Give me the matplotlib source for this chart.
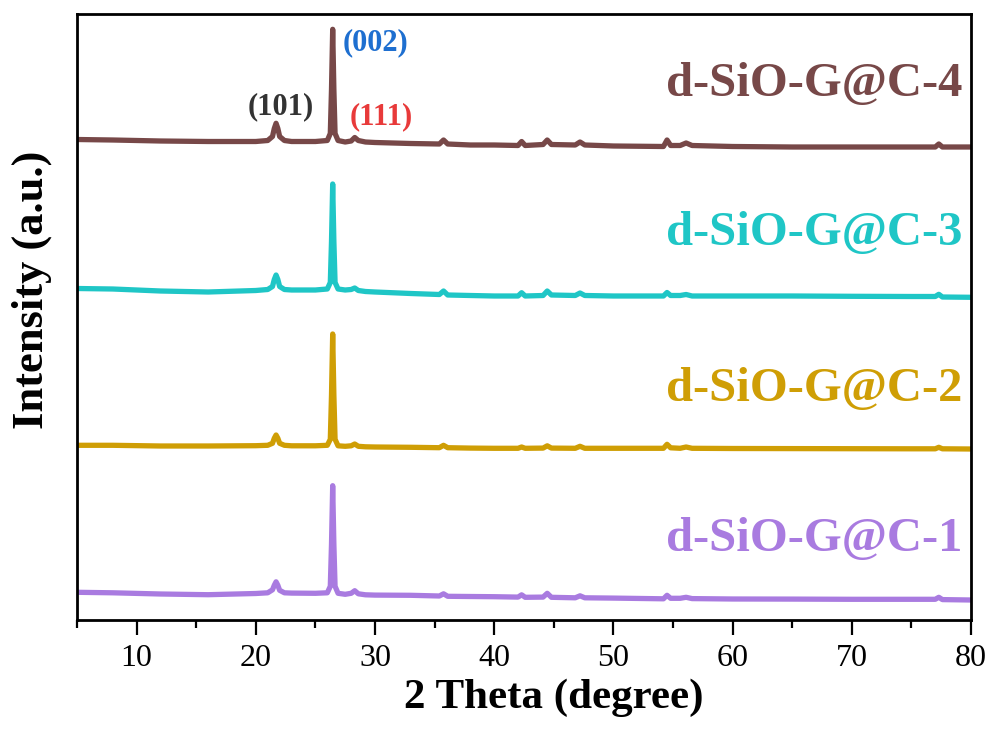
import matplotlib
matplotlib.use("Agg")
import matplotlib.pyplot as plt
from matplotlib.ticker import MultipleLocator

plt.rcParams['font.family'] = 'serif'
plt.rcParams['font.serif'] = ['Liberation Serif', 'DejaVu Serif']

# 2 theta sample points (degree)
two_theta = [5, 8, 12, 16, 20, 21.0, 21.4, 21.55, 21.7, 21.85,
             22.0, 22.4, 23, 25, 26.0, 26.25, 26.35, 26.45, 26.55, 26.65,
             26.9, 27.5, 28.0, 28.3, 28.6, 29.2, 30, 33, 35.4, 35.75,
             36.1, 38, 40, 42.0, 42.3, 42.6, 44.1, 44.45, 44.8, 46.8,
             47.2, 47.6, 50, 54.2, 54.5, 54.8, 55.6, 56.1, 56.6, 60,
             65, 70, 75, 77.0, 77.3, 77.6, 80]

# intensities (a.u.)
c1 = [0, -0.5, -1.7, -2.4, -1.2, -0.5, 2.5, 7, 10.5, 7,
      2, -0.5, -0.8, -1, -0.5, 6, 48, 106.6, 48, 6,
      -1, -2, -1, 1.6, -1.5, -2.5, -2.8, -3, -3.7, -1.5,
      -4, -4.2, -4.4, -4.8, -2.5, -5, -4.8, -1, -5, -5.5,
      -3.5, -5.5, -5.8, -6.5, -3, -6, -6, -5, -6.3, -6.7,
      -6.8, -7, -7, -7, -5, -7.3, -7.7]
c2 = [0, 0, -0.7, -0.7, -0.4, 0, 2, 7, 10.3, 7,
      2, 0, -0.5, -0.5, 0, 6, 50, 111.3, 50, 6,
      -0.5, -1, -0.5, 1.3, -1, -1.5, -1.7, -2, -2.4, 0,
      -2.4, -2.8, -3, -3, -1.7, -3, -2.8, -0.5, -2.8, -3,
      -1, -3, -3, -3, 1, -2.5, -3, -1.7, -3, -3.2,
      -3.3, -3.4, -3.5, -3.5, -2, -3.5, -3.7]
c3 = [0, -0.5, -2.5, -3.5, -2, -1, 2, 9, 13.5, 9,
      2, -1, -1.5, -1.5, -0.5, 6, 47, 104.5, 47, 6,
      -0.5, -1.5, -1, 0.5, -2, -3, -3.5, -5, -6, -2.5,
      -6.5, -7, -7.5, -7.5, -4.2, -7.5, -7, -2.5, -6.5, -7,
      -4.5, -7, -7.5, -7.5, -4, -7, -7, -6, -7.5, -7.5,
      -7.5, -7.8, -8, -8, -5.8, -8.5, -8.8]
c4 = [0, -0.5, -1.5, -2, -2, -1, 3, 11, 16.2, 11,
      3, -1, -2, -2, -1, 6, 50, 110.2, 50, 6,
      -1, -2.5, -1.5, 2, -1, -2.5, -3, -4, -4.5, -0.5,
      -4.5, -5.5, -5.5, -6, -2, -6, -5, -0.5, -5, -5.5,
      -2.5, -5.5, -6.5, -7, -0.5, -6, -6, -3.5, -6, -7,
      -7.5, -7.5, -7.5, -7.5, -4.5, -7.5, -7.5]

names = ['d-SiO-G@C-1', 'd-SiO-G@C-2', 'd-SiO-G@C-3', 'd-SiO-G@C-4']
offsets = [27.7, 174.7, 331.5, 480.5]
colors = ['#A97BE0', '#CF9E05', '#1FC6C6', '#774848']
label_y = [81, 231, 387, 536]

fig = plt.figure(figsize=(9.92, 7.31), dpi=100)
ax = fig.add_axes([77/992, 1-620/731, (971-77)/992, (620-14)/731])

for y, off, col, name, ly in zip([c1, c2, c3, c4], offsets, colors, names, label_y):
    ax.plot(two_theta, [v + off for v in y], color=col, lw=3.8,
            solid_joinstyle='round', solid_capstyle='round')
    ax.text(79.3, ly, name, color=col, fontsize=35, fontweight='bold',
            ha='right', va='center')

# peak indices
ax.text(22.1, 513, '(101)', color='#333333', fontsize=22, fontweight='bold', ha='center', va='center')
ax.text(30.0, 577, '(002)', color='#1E6FD0', fontsize=22, fontweight='bold', ha='center', va='center')
ax.text(30.5, 503, '(111)', color='#E83A3A', fontsize=22, fontweight='bold', ha='center', va='center')

ax.set_xlim(5, 80)
ax.set_ylim(0, 606)
ax.set_yticks([])
ax.xaxis.set_major_locator(MultipleLocator(10))
ax.xaxis.set_minor_locator(MultipleLocator(5))
ax.tick_params(axis='x', which='major', direction='out', length=11, width=1.6,
               labelsize=23, pad=6)
ax.tick_params(axis='x', which='minor', direction='out', length=6, width=1.6)
for s in ax.spines.values():
    s.set_linewidth(2)

ax.set_xlabel('2 Theta (degree)', fontsize=31, fontweight='bold')
ax.xaxis.set_label_coords((554-77)/894, -0.097)
ax.set_ylabel('Intensity (a.u.)', fontsize=32, fontweight='bold')
ax.yaxis.set_label_coords(-0.028, (620-290)/606)

plt.savefig('out.png', dpi=100)
